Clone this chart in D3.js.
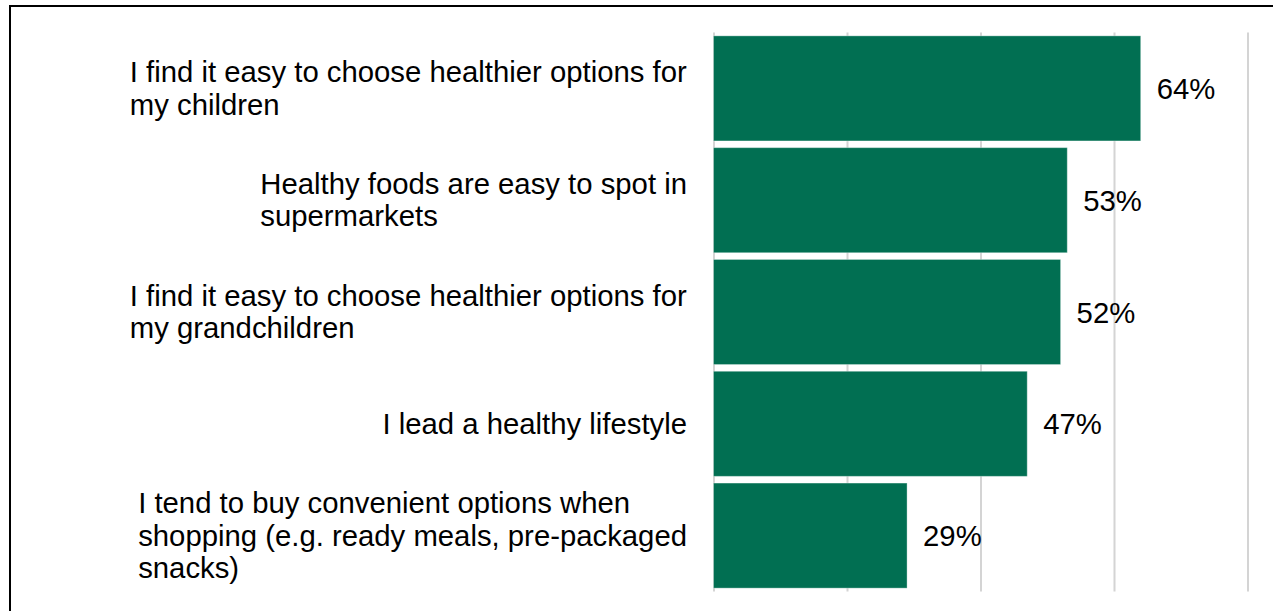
<!DOCTYPE html>
<html>
<head>
<meta charset="utf-8">
<script src="https://cdn.jsdelivr.net/npm/d3@7"></script>
<style>
  html, body { margin: 0; padding: 0; background: #fff; }
  svg { display: block; }
  text { font-family: "Liberation Sans", Arial, sans-serif; fill: #000; }
</style>
</head>
<body>
<svg id="chart" width="1273" height="611"></svg>
<script>
// Statements (each entry is one label line) and share agreeing
const statements = [
  ["I find it easy to choose healthier options for", "my children"],
  ["Healthy foods are easy to spot in", "supermarkets"],
  ["I find it easy to choose healthier options for", "my grandchildren"],
  ["I lead a healthy lifestyle"],
  ["I tend to buy convenient options when", "shopping (e.g. ready meals, pre-packaged", "snacks)"]
];
const agreePct = [64, 53, 52, 47, 29];
const gridTicks = [0, 20, 40, 60, 80];

const svg = d3.select("#chart");
const W = 1273, H = 611;
const fontSize = 29.3, lineHeight = 32.5;

const rows = statements.map((lines, i) => ({ id: i, lines, value: agreePct[i] }));

const x = d3.scaleLinear().domain([0, 80]).range([713.5, 1247.5]);
const y = d3.scaleBand()
  .domain(rows.map(d => d.id))
  .range([32.5, 591.5])
  .paddingInner(0.06)
  .paddingOuter(0.03);

// Outer frame
svg.append("rect")
  .attr("x", 10).attr("y", 6)
  .attr("width", W + 50).attr("height", H + 50)
  .attr("fill", "none")
  .attr("stroke", "#000")
  .attr("stroke-width", 2);

// Vertical gridlines
svg.append("g")
  .attr("transform", `translate(0,${y.range()[1]})`)
  .call(d3.axisBottom(x).tickValues(gridTicks)
    .tickSize(-(y.range()[1] - y.range()[0]))
    .tickFormat(""))
  .call(g => g.select(".domain").remove())
  .call(g => g.selectAll(".tick line")
    .attr("stroke", "#d4d4d4")
    .attr("stroke-width", 2));

// Bars
svg.append("g").selectAll("rect")
  .data(rows)
  .join("rect")
  .attr("x", x(0))
  .attr("y", d => y(d.id))
  .attr("width", d => x(d.value) - x(0))
  .attr("height", y.bandwidth())
  .attr("fill", "#016f52")
  .attr("stroke", "rgba(255,255,255,0.35)")
  .attr("stroke-width", 1);

// Value labels
svg.append("g").selectAll("text")
  .data(rows)
  .join("text")
  .attr("x", d => x(d.value) + 16)
  .attr("y", d => y(d.id) + y.bandwidth() / 2)
  .attr("dy", "0.36em")
  .attr("font-size", fontSize)
  .text(d => d.value + "%");

// Category labels: left-aligned lines, block right-aligned against the axis
const labelRight = 687;
const labelGroups = svg.append("g").selectAll("g")
  .data(rows)
  .join("g");

labelGroups.each(function (d) {
  const g = d3.select(this);
  const cy = y(d.id) + y.bandwidth() / 2;
  const n = d.lines.length;
  const t = g.append("text").attr("font-size", fontSize);
  d.lines.forEach((line, k) => {
    t.append("tspan")
      .attr("x", 0)
      .attr("y", cy + (k - (n - 1) / 2) * lineHeight)
      .attr("dy", "0.34em")
      .text(line);
  });
  const w = t.node().getBBox().width;
  g.attr("transform", `translate(${labelRight - w},0)`);
});
</script>
</body>
</html>
